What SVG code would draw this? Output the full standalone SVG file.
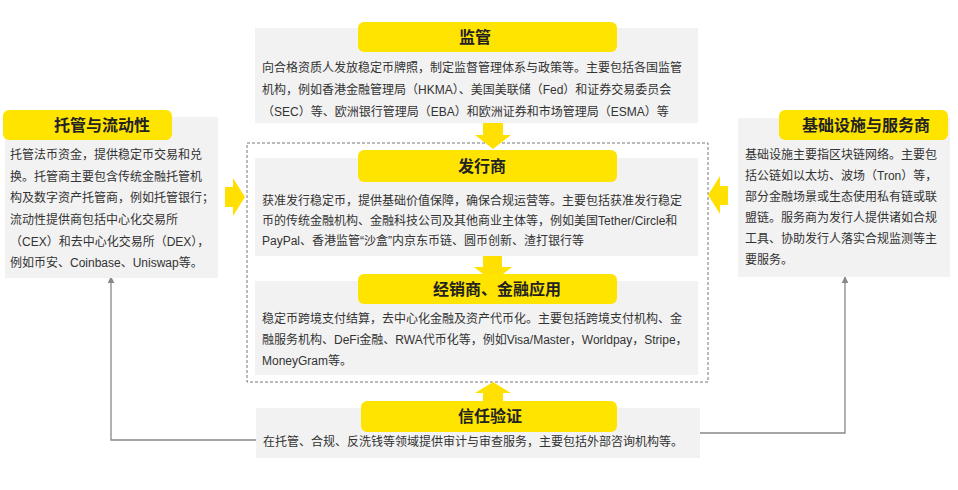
<svg xmlns="http://www.w3.org/2000/svg" width="958" height="490" viewBox="0 0 958 490">
<defs>
<style>
.bg{fill:#f2f2f2}
.pill{fill:#ffe400}
.ttl{font-family:"Liberation Sans","Noto Sans CJK SC",sans-serif;font-size:16px;font-weight:bold;fill:#222;text-anchor:middle}
.txt{font-family:"Liberation Sans","Noto Sans CJK SC",sans-serif;font-size:12px;fill:#333}
.ya{fill:#ffe000}
.conn{fill:none;stroke:#888;stroke-width:1.3}
</style>
<marker id="ah" viewBox="0 0 10 10" refX="9" refY="5" markerWidth="7" markerHeight="7" orient="auto" markerUnits="userSpaceOnUse">
<path d="M0,0 L10,5 L0,10 z" fill="#888"/>
</marker>
</defs>
<rect width="958" height="490" fill="#fff"/>

<g id="connectors">
<rect x="247" y="143" width="461" height="239" fill="none" stroke="#777" stroke-width="1" stroke-dasharray="3,2"/>
<polyline class="conn" points="256,440 111,440 111,277" marker-end="url(#ah)"/>
<polyline class="conn" points="700,433 845,433 845,277" marker-end="url(#ah)"/>
<polygon class="ya" points="483,123 503,123 503,135 511,135 493,149 475,135 483,135"/>
<polygon class="ya" points="483,256 502,256 502,267 512,267 493,282 474,267 483,267"/>
<polygon class="ya" points="493,382 511,393 503,393 503,402 483,402 483,393 475,393"/>
<polygon class="ya" points="225,187 233,187 233,178 245,197 233,216 233,207 225,207"/>
<polygon class="ya" points="728,186 720,186 720,176 708,195 720,214 720,205 728,205"/>
</g>

<g id="regulator">
<rect class="bg" x="255" y="28" width="443" height="95"/>
<rect class="pill" x="358" y="22" width="259" height="30" rx="6"/>
<text class="ttl" x="475" y="43">监管</text>
<text class="txt" x="262" y="72">向合格资质人发放稳定币牌照，制定监督管理体系与政策等。主要包括各国监管</text>
<text class="txt" x="262" y="94">机构，例如香港金融管理局（HKMA）、美国美联储（Fed）和证券交易委员会</text>
<text class="txt" x="262" y="116">（SEC）等、欧洲银行管理局（EBA）和欧洲证券和市场管理局（ESMA）等</text>
</g>

<g id="issuer">
<rect class="bg" x="255" y="158" width="443" height="98"/>
<rect class="pill" x="358" y="150" width="259" height="32" rx="6"/>
<text class="ttl" x="482" y="172">发行商</text>
<text class="txt" x="262" y="205">获准发行稳定币，提供基础价值保障，确保合规运营等。主要包括获准发行稳定</text>
<text class="txt" x="262" y="225">币的传统金融机构、金融科技公司及其他商业主体等，例如美国Tether/Circle和</text>
<text class="txt" x="262" y="245">PayPal、香港监管“沙盒”内京东币链、圆币创新、渣打银行等</text>
</g>

<g id="distributor">
<rect class="bg" x="255" y="281" width="443" height="94"/>
<rect class="pill" x="358" y="274" width="259" height="30" rx="6"/>
<text class="ttl" x="497" y="295">经销商、金融应用</text>
<text class="txt" x="262" y="323">稳定币跨境支付结算，去中心化金融及资产代币化。主要包括跨境支付机构、金</text>
<text class="txt" x="262" y="344">融服务机构、DeFi金融、RWA代币化等，例如Visa/Master，Worldpay，Stripe，</text>
<text class="txt" x="262" y="365">MoneyGram等。</text>
</g>

<g id="trust">
<rect class="bg" x="256" y="408" width="444" height="50"/>
<rect class="pill" x="361" y="401" width="256" height="31" rx="6"/>
<text class="ttl" x="490" y="422">信任验证</text>
<text class="txt" x="263" y="446">在托管、合规、反洗钱等领域提供审计与审查服务，主要包括外部咨询机构等。</text>
</g>

<g id="custody">
<rect class="bg" x="5" y="117" width="213" height="161"/>
<rect class="pill" x="3" y="110" width="169" height="30" rx="6"/>
<text class="ttl" x="102" y="131">托管与流动性</text>
<text class="txt" x="10" y="159">托管法币资金，提供稳定币交易和兑</text>
<text class="txt" x="10" y="181">换。托管商主要包含传统金融托管机</text>
<text class="txt" x="10" y="202">构及数字资产托管商，例如托管银行；</text>
<text class="txt" x="10" y="224">流动性提供商包括中心化交易所</text>
<text class="txt" x="10" y="246">（CEX）和去中心化交易所（DEX），</text>
<text class="txt" x="10" y="267">例如币安、Coinbase、Uniswap等。</text>
</g>

<g id="infrastructure">
<rect class="bg" x="738" y="118" width="212" height="159"/>
<rect class="pill" x="779" y="110" width="169" height="30" rx="6"/>
<text class="ttl" x="866" y="131">基础设施与服务商</text>
<text class="txt" x="745" y="159">基础设施主要指区块链网络。主要包</text>
<text class="txt" x="745" y="180">括公链如以太坊、波场（Tron）等，</text>
<text class="txt" x="745" y="201">部分金融场景或生态使用私有链或联</text>
<text class="txt" x="745" y="222">盟链。服务商为发行人提供诸如合规</text>
<text class="txt" x="745" y="243">工具、协助发行人落实合规监测等主</text>
<text class="txt" x="745" y="264">要服务。</text>
</g>
</svg>
